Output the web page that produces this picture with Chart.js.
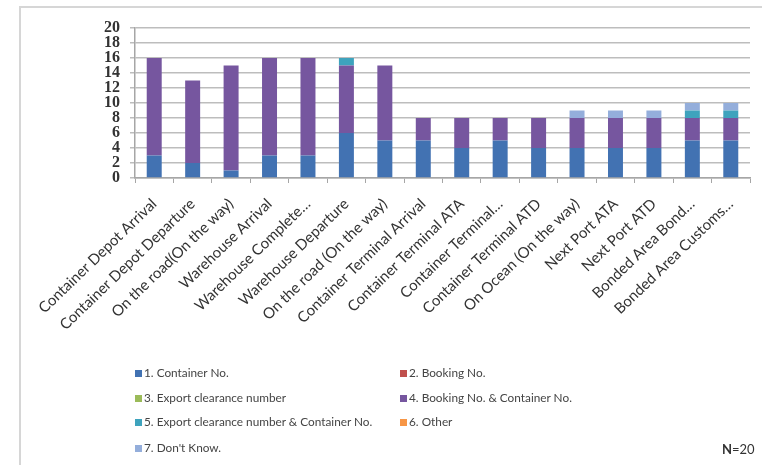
<!DOCTYPE html>
<html>
<head>
<meta charset="utf-8">
<script src="https://cdn.jsdelivr.net/npm/chart.js@4.4.1/dist/chart.umd.min.js"></script>
<style>
  html, body { margin: 0; padding: 0; background: #fff; }
  #wrap { position: relative; width: 762px; height: 465px; overflow: hidden; }
  #frame { position: absolute; left: 19px; top: 6px; width: 800px; height: 500px;
           border-left: 2px solid #d6d6d6; border-top: 2px solid #d6d6d6; }
  canvas { position: absolute; left: 0; top: 0; }
  .leg { position: absolute; font: 11.8px Lato, "Liberation Sans", sans-serif; color: #444;
         white-space: nowrap; line-height: 14px; }
  .leg i { display: inline-block; width: 7px; height: 7px; margin-right: 2px; vertical-align: 0px; }
  #n { position: absolute; left: 722px; top: 441px; font: 13px Lato, sans-serif; color: #333; }
</style>
</head>
<body>
<div id="wrap">
  <div id="frame"></div>
  <canvas id="chart" width="762" height="465"></canvas>
  <div id="legend"></div>
  <div id="n"><b>N</b>=20</div>
</div>
<script>
const categories = [
    "Container Depot Arrival",
    "Container Depot Departure",
    "On the road(On the way)",
    "Warehouse Arrival",
    "Warehouse Complete…",
    "Warehouse Departure",
    "On the road (On the way)",
    "Container Terminal Arrival",
    "Container Terminal ATA",
    "Container Terminal…",
    "Container Terminal ATD",
    "On Ocean (On the way)",
    "Next Port ATA",
    "Next Port ATD",
    "Bonded Area Bond…",
    "Bonded Area Customs…"
];

const seriesNames = [
    "1. Container No.",
    "2. Booking No.",
    "3. Export clearance number",
    "4. Booking No. & Container No.",
    "5. Export clearance number & Container No.",
    "6. Other",
    "7. Don't Know."
];

const containerNo   = [3, 2, 1, 3, 3, 6, 5, 5, 4, 5, 4, 4, 4, 4, 5, 5];
const bookingNo     = [0, 0, 0, 0, 0, 0, 0, 0, 0, 0, 0, 0, 0, 0, 0, 0];
const exportNo      = [0, 0, 0, 0, 0, 0, 0, 0, 0, 0, 0, 0, 0, 0, 0, 0];
const bookingAndCon = [13, 11, 14, 13, 13, 9, 10, 3, 4, 3, 4, 4, 4, 4, 3, 3];
const exportAndCon  = [0, 0, 0, 0, 0, 1, 0, 0, 0, 0, 0, 0, 0, 0, 1, 1];
const other         = [0, 0, 0, 0, 0, 0, 0, 0, 0, 0, 0, 0, 0, 0, 0, 0];
const dontKnow      = [0, 0, 0, 0, 0, 0, 0, 0, 0, 0, 0, 1, 1, 1, 1, 1];

const yTicks = [0, 2, 4, 6, 8, 10, 12, 14, 16, 18, 20];

const seriesData = [containerNo, bookingNo, exportNo, bookingAndCon, exportAndCon, other, dontKnow];
const colors = ["#4272b2", "#c0504d", "#9bbb59", "#76569f", "#3ea3bd", "#f79646", "#94aedb"];

const datasets = seriesData.map((data, i) => ({
    label: seriesNames[i],
    data: data,
    backgroundColor: colors[i],
    barPercentage: 0.78,
    categoryPercentage: 0.5
}));

new Chart(document.getElementById("chart"), {
    type: "bar",
    data: { labels: categories, datasets: datasets },
    options: {
        responsive: false,
        animation: false,
        layout: { padding: { left: 20, top: 28, right: 12, bottom: 97 } },
        plugins: { legend: { display: false }, tooltip: { enabled: false } },
        scales: {
            x: {
                stacked: true,
                afterFit: (scale) => { scale.height = 190; },
                border: { color: "#a6a6a6", width: 1.5 },
                grid: { drawOnChartArea: false, color: "#a6a6a6", tickLength: 5 },
                ticks: {
                    autoSkip: false,
                    maxRotation: 44,
                    minRotation: 44,
                    padding: 12,
                    color: "#333",
                    font: { family: "Lato", size: 15 }
                }
            },
            y: {
                stacked: true,
                min: 0,
                max: 20,
                afterFit: (scale) => { scale.width = 115; },
                afterBuildTicks: (scale) => { scale.ticks = yTicks.map((v) => ({ value: v })); },
                border: { color: "#a6a6a6", width: 1.5 },
                grid: { color: "#bdbdbd", lineWidth: 1.5, tickLength: 5 },
                ticks: {
                    autoSkip: false,
                    padding: 10,
                    color: "#333",
                    font: { family: "Liberation Serif", size: 16, weight: "bold" }
                }
            }
        }
    }
});

// two-column legend under the chart
const legend = document.getElementById("legend");
const rowsY = [366, 391, 415, 441];
seriesNames.forEach((name, i) => {
    const el = document.createElement("div");
    el.className = "leg";
    el.style.left = (i % 2 === 0 ? 135 : 400) + "px";
    el.style.top = rowsY[Math.floor(i / 2)] + "px";
    el.innerHTML = `<i style="background:${colors[i]}"></i>${name}`;
    legend.appendChild(el);
});
</script>
</body>
</html>
